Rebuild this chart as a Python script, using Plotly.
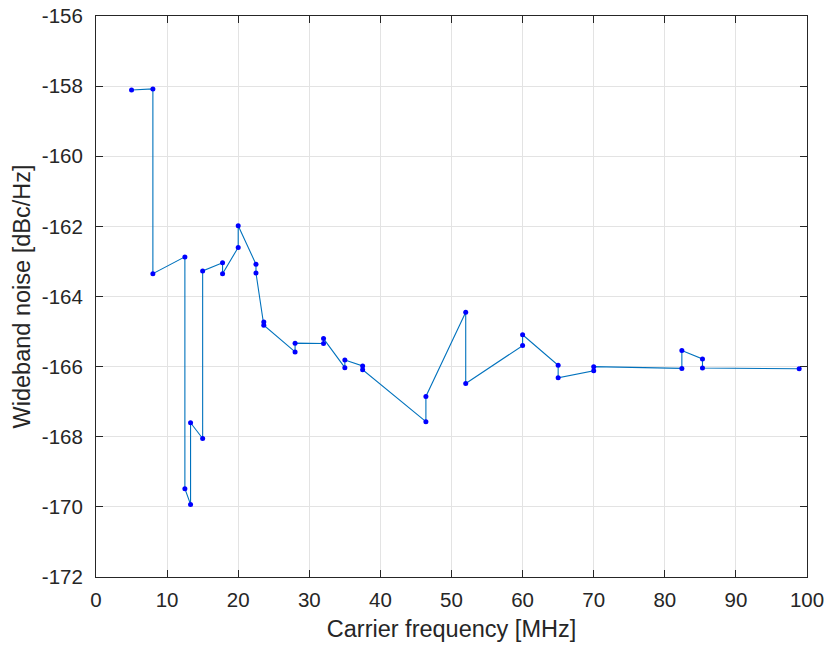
import plotly.graph_objects as go

freq_mhz = [5, 8, 8, 12.5, 12.5, 13.3, 13.3, 15, 15, 17.8, 17.8, 20, 20, 22.5, 22.5,
            23.6, 23.6, 28, 28, 32, 32, 35, 35, 37.5, 37.5, 46.4, 46.4, 52, 52,
            60, 60, 65, 65, 70, 70, 82.4, 82.4, 85.3, 85.3, 98.9]
noise_dbc = [-158.11, -158.08, -163.35, -162.87, -169.48, -169.93, -167.6, -168.05, -163.27,
             -163.04, -163.35, -162.6, -161.98, -163.08, -163.33, -164.73, -164.82,
             -165.58, -165.33, -165.34, -165.2, -166.03, -165.81, -165.98, -166.09,
             -167.57, -166.85, -164.45, -166.48, -165.4, -165.09, -165.96, -166.32,
             -166.12, -166.0, -166.05, -165.54, -165.78, -166.04, -166.06]

x_ticks = [0, 10, 20, 30, 40, 50, 60, 70, 80, 90, 100]
y_ticks = [-172, -170, -168, -166, -164, -162, -160, -158, -156]
x_labels = [str(v) for v in x_ticks]
y_labels = [str(v) for v in y_ticks]

axis_col = "#262626"
grid_col = "#e3e3e3"
font_fam = "Liberation Sans, Arial, sans-serif"

fig = go.Figure()
fig.add_trace(go.Scatter(
    x=freq_mhz, y=noise_dbc, mode="lines+markers",
    line=dict(color="#0072BD", width=1.1),
    marker=dict(color="#0000FF", size=5),
    showlegend=False,
))

common = dict(
    showline=True, linecolor=axis_col, linewidth=1, mirror="allticks",
    ticks="inside", ticklen=7, tickwidth=1, tickcolor=axis_col,
    showgrid=True, gridcolor=grid_col, gridwidth=1, zeroline=False,
    tickfont=dict(family=font_fam, size=20.5, color=axis_col),
    automargin=False,
)

fig.update_xaxes(range=[0, 100], tickvals=x_ticks, ticktext=x_labels,
                 title=dict(text="Carrier frequency [MHz]", font=dict(family=font_fam, size=23.5, color=axis_col), standoff=10),
                 ticklabelstandoff=4, **common)
fig.update_yaxes(range=[-172, -156], tickvals=y_ticks, ticktext=y_labels,
                 title=dict(text="Wideband noise [dBc/Hz]", font=dict(family=font_fam, size=23.5, color=axis_col), standoff=4),
                 ticklabelstandoff=8, **common)

fig.update_layout(
    width=826, height=646,
    margin=dict(l=96, r=19, t=16, b=69),
    paper_bgcolor="white", plot_bgcolor="white",
    font=dict(family=font_fam, color=axis_col),
)

fig.write_html("out.html")
